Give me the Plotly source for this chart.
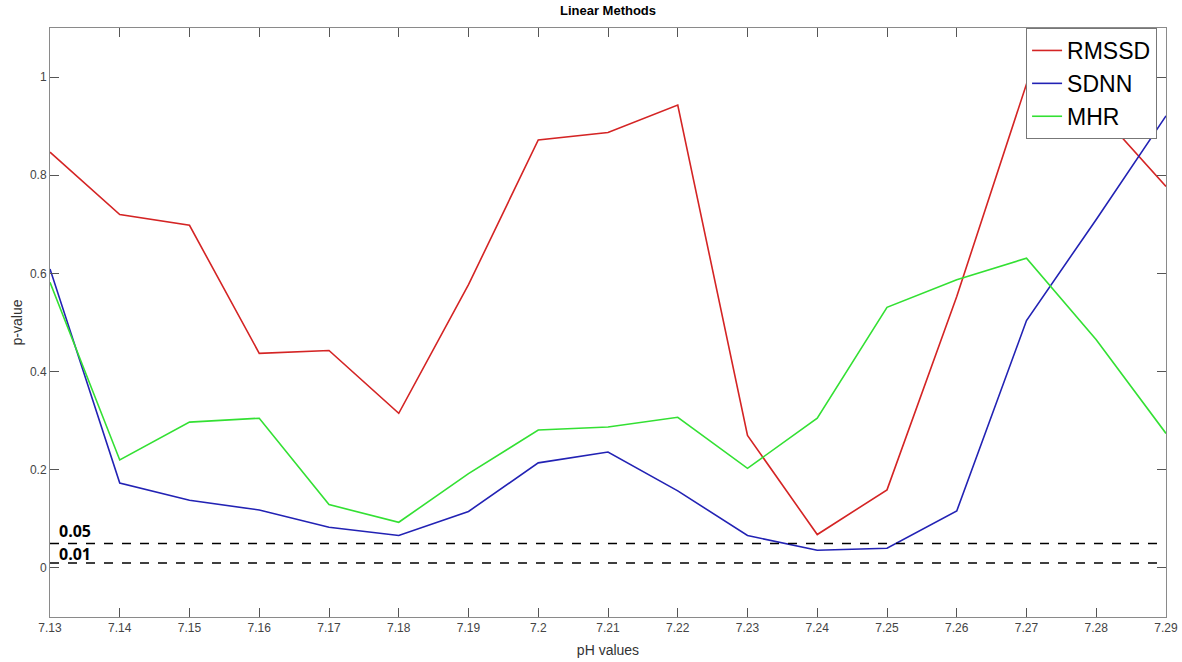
import plotly.graph_objects as go

ph = [7.13, 7.14, 7.15, 7.16, 7.17, 7.18, 7.19, 7.20, 7.21, 7.22,
      7.23, 7.24, 7.25, 7.26, 7.27, 7.28, 7.29]
tick_labels = ["7.13", "7.14", "7.15", "7.16", "7.17", "7.18", "7.19", "7.2",
               "7.21", "7.22", "7.23", "7.24", "7.25", "7.26", "7.27", "7.28", "7.29"]

rmssd = [0.847, 0.720, 0.698, 0.437, 0.443, 0.315, 0.577, 0.872, 0.887, 0.943,
         0.270, 0.068, 0.159, 0.553, 0.986, 0.935, 0.777]
sdnn = [0.609, 0.173, 0.138, 0.118, 0.083, 0.066, 0.115, 0.214, 0.236, 0.157,
        0.066, 0.036, 0.040, 0.116, 0.504, 0.710, 0.921]
mhr = [0.582, 0.220, 0.297, 0.305, 0.129, 0.093, 0.192, 0.281, 0.287, 0.307,
       0.203, 0.305, 0.531, 0.587, 0.631, 0.465, 0.274]

thresholds = [0.05, 0.01]
threshold_labels = ["0.05", "0.01"]
label_shift = [0, -3]

y_ticks = [0, 0.2, 0.4, 0.6, 0.8, 1.0]
y_tick_labels = ["0", "0.2", "0.4", "0.6", "0.8", "1"]

fig = go.Figure()
series = [("RMSSD", rmssd, "#d42424"), ("SDNN", sdnn, "#2222b4"), ("MHR", mhr, "#33e033")]
for name, vals, col in series:
    fig.add_trace(go.Scatter(x=ph, y=vals, mode="lines", name=name,
                             line=dict(color=col, width=1.6)))

for t, lab, sh in zip(thresholds, threshold_labels, label_shift):
    fig.add_trace(go.Scatter(x=[ph[0], ph[-1]], y=[t, t], mode="lines",
                             showlegend=False, hoverinfo="skip",
                             line=dict(color="black", width=1.5, dash="dash")))
    fig.add_annotation(x=ph[0] + 0.0012, y=t, text="<b>" + lab + "</b>",
                       showarrow=False, xanchor="left", yanchor="bottom",
                       yshift=sh, borderpad=0,
                       font=dict(family="Open Sans, Arial", size=16, color="black"))

axis_common = dict(showline=True, linecolor="#8a8a8a", linewidth=1, mirror="ticks",
                   ticks="inside", ticklen=9, tickcolor="#555555", showgrid=False,
                   zeroline=False, automargin=False,
                   tickfont=dict(family="Arial", size=12, color="#444444"))

fig.update_xaxes(range=[7.13, 7.29], tickvals=ph, ticktext=tick_labels,
                 title=dict(text="pH values", font=dict(family="Arial", size=14, color="#333333"),
                            standoff=10),
                 **axis_common)
fig.update_yaxes(range=[-0.1, 1.1], tickvals=y_ticks, ticktext=y_tick_labels,
                 title=dict(text="p-value", font=dict(family="Arial", size=14, color="#333333"),
                            standoff=4),
                 **axis_common)

fig.update_layout(
    width=1182, height=662,
    margin=dict(l=50, r=16, t=28, b=45),
    paper_bgcolor="white", plot_bgcolor="white",
    title=dict(text="<b>Linear Methods</b>", x=(50 + 1116 / 2) / 1182, xanchor="center",
               y=0.991, yanchor="top", font=dict(family="Arial", size=13, color="black")),
    legend=dict(x=0.992, y=1.0, xanchor="right", yanchor="top",
                bgcolor="white", bordercolor="#777777", borderwidth=1,
                font=dict(family="Arial", size=23, color="black"),
                tracegroupgap=0, itemwidth=30),
    showlegend=True,
)

fig.write_html("out.html")
